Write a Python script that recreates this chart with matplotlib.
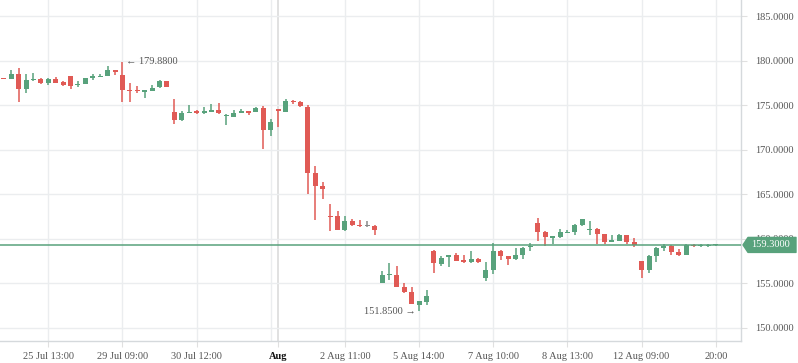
import matplotlib
matplotlib.use("Agg")
import matplotlib.pyplot as plt
from matplotlib.patches import Polygon
from matplotlib.transforms import IdentityTransform
import numpy as np

opens = [177.98, 177.92, 178.51, 176.80, 177.85, 177.95, 177.54, 177.95, 177.58, 178.29,
         177.25, 177.36, 178.10, 178.21, 178.29, 178.96, 178.44, 176.62, 176.60, 176.53,
         176.64, 177.00, 177.73, 174.23, 173.34, 174.17, 174.24, 174.13, 174.24, 174.47,
         173.76, 173.72, 174.16, 174.36, 174.24, 174.69, 172.22, 174.58, 174.24, 175.45,
         175.37, 174.81, 167.39, 165.93, 162.55, 162.55, 161.02, 161.99, 161.54, 161.43,
         161.43, 155.06, 155.89, 155.96, 154.57, 154.05, 152.60, 152.93, 158.62, 157.16,
         157.91, 158.17, 157.61, 157.38, 157.72, 155.63, 156.52, 158.62, 158.06, 157.72,
         158.17, 159.07, 161.77, 160.76, 160.13, 160.20, 160.68, 160.76, 161.54, 160.94,
         161.10, 160.54, 159.68, 159.74, 160.42, 159.63, 157.50, 156.53, 158.06, 158.96,
         159.18, 158.51, 158.17, 159.25, 159.22, 159.22, 159.25]
highs = [178.05, 178.96, 179.22, 178.51, 178.66, 178.03, 178.07, 178.18, 177.73, 178.29,
         177.73, 178.07, 178.51, 178.51, 179.45, 178.96, 179.88, 177.47, 177.17, 176.68,
         177.31, 177.84, 177.73, 175.69, 174.36, 175.03, 174.47, 174.81, 175.14, 175.26,
         174.02, 174.47, 174.58, 174.36, 174.84, 174.95, 173.46, 174.58, 175.70, 175.59,
         175.45, 175.02, 168.17, 166.38, 163.90, 163.15, 162.55, 162.22, 162.10, 161.99,
         161.54, 156.37, 157.27, 156.93, 155.02, 154.54, 153.00, 154.28, 158.73, 158.06,
         158.17, 158.36, 158.17, 158.62, 157.83, 157.38, 159.49, 158.73, 158.06, 158.96,
         159.07, 159.51, 162.33, 160.87, 160.20, 161.10, 160.98, 161.66, 162.22, 161.99,
         161.21, 160.54, 160.42, 160.54, 160.42, 160.08, 157.50, 158.17, 159.07, 159.40,
         159.29, 158.85, 159.40, 159.40, 159.40, 159.40, 159.40]
lows = [177.90, 177.90, 175.37, 176.35, 177.76, 177.42, 177.24, 177.50, 177.17, 176.86,
        177.09, 177.36, 177.87, 178.21, 178.29, 178.40, 175.40, 175.40, 176.35, 175.85,
        176.57, 176.94, 177.00, 172.93, 173.23, 174.16, 174.02, 174.05, 174.24, 174.02,
        172.78, 173.65, 174.16, 173.91, 174.24, 170.08, 171.58, 172.59, 174.24, 175.14,
        174.77, 165.06, 162.14, 164.50, 160.90, 161.02, 160.90, 161.43, 161.28, 161.35,
        160.42, 155.06, 155.40, 154.61, 153.93, 152.63, 151.85, 152.60, 156.15, 156.93,
        156.82, 157.46, 157.27, 157.27, 157.27, 155.29, 156.07, 157.61, 157.05, 157.61,
        157.72, 158.62, 159.74, 159.18, 159.40, 160.08, 160.64, 160.42, 161.43, 160.42,
        159.40, 159.40, 159.64, 159.74, 159.40, 159.07, 155.60, 156.18, 157.38, 158.62,
        158.17, 158.06, 158.17, 159.10, 159.10, 159.10, 159.18]
closes = [177.92, 178.51, 176.83, 177.84, 177.92, 177.50, 177.95, 177.54, 177.31, 177.20,
          177.31, 178.07, 178.32, 178.32, 178.96, 178.70, 176.72, 176.55, 176.55, 176.68,
          176.94, 177.73, 177.00, 173.33, 174.16, 174.24, 174.18, 174.39, 174.47, 174.10,
          173.82, 174.16, 174.36, 174.13, 174.69, 172.22, 173.12, 174.39, 175.48, 175.37,
          174.89, 167.42, 165.96, 165.62, 162.48, 161.02, 161.99, 161.54, 161.47, 161.43,
          161.02, 155.92, 155.96, 154.61, 154.05, 152.63, 153.00, 153.60, 157.27, 157.83,
          158.17, 157.50, 157.38, 157.72, 157.38, 156.52, 158.62, 158.06, 157.72, 158.17,
          158.96, 159.18, 160.76, 160.20, 160.20, 160.76, 160.76, 161.54, 162.22, 161.02,
          160.54, 159.64, 159.74, 160.42, 159.63, 159.30, 156.51, 158.06, 158.96, 159.18,
          158.51, 158.17, 159.29, 159.14, 159.33, 159.33, 159.30]

tick_idx = [6, 16, 26, 37, 46, 56, 66, 76, 86, 96]
tick_labels = ["25 Jul 13:00", "29 Jul 09:00", "30 Jul 12:00", "Aug", "2 Aug 11:00",
               "5 Aug 14:00", "7 Aug 10:00", "8 Aug 13:00", "12 Aug 09:00", "20:00"]
grid_idx = [6, 16, 26, 36, 46, 56, 66, 76, 86, 96]
y_ticks = [150, 155, 160, 165, 170, 175, 180, 185]

GREEN = "#58a27c"
RED = "#e05a55"
GREY = "#8a8a8a"
SERIF = ["Liberation Serif", "DejaVu Serif"]

W, H = 798, 363
fig = plt.figure(figsize=(W / 100, H / 100), dpi=100)
ax = fig.add_axes([0, 1 - 341 / H, 741 / W, 341 / H])

o = np.array(opens); h = np.array(highs); l = np.array(lows); c = np.array(closes)
x = np.arange(len(o))
cols = np.where(c > o, GREEN, np.where(c < o, RED, GREY))

ax.vlines(x, l, h, colors=cols, linewidth=1.1, zorder=3)
body_bottom = np.minimum(o, c)
body_h = np.maximum(np.abs(c - o), 0.12)
ax.bar(x, body_h, bottom=body_bottom, width=0.68, color=cols, linewidth=0, zorder=4)

ax.set_xlim(-0.51, 99.4)
ax.set_ylim(148.5, 186.83)

# grid
for gi in grid_idx:
    ax.axvline(gi, color="#ebedef", linewidth=1, zorder=1)
ax.axvline(37, color="#dcdcdc", linewidth=1.2, zorder=1)
for yt in y_ticks:
    ax.axhline(yt, color="#ebedef", linewidth=1, zorder=1)

# last price line
last = closes[-1]
ax.axhline(last, color=GREEN, linewidth=1.1, zorder=5)

for s in ["top", "left"]:
    ax.spines[s].set_visible(False)
for s in ["right", "bottom"]:
    ax.spines[s].set_color("#d5d9dc")
    ax.spines[s].set_linewidth(1)

ax.yaxis.tick_right()
ax.set_yticks(y_ticks)
ax.set_yticklabels([f"{v:.4f}" for v in y_ticks], fontsize=7.5, color="#555555",
                   family=SERIF)
ax.tick_params(axis="y", length=4, color="#e0e0e0", pad=6)
ax.set_xticks(tick_idx)
ax.set_xticklabels(tick_labels, fontsize=7.5, color="#555555", family=SERIF)
ax.tick_params(axis="x", length=4, color="#e0e0e0", pad=4)
for lab in ax.get_xticklabels():
    if lab.get_text() == "Aug":
        lab.set_color("#111111")
        lab.set_fontweight("bold")

# high / low annotations
ih = int(np.argmax(h)); il = int(np.argmin(l))
ax.annotate(f"\u2190 {h[ih]:.4f}", xy=(ih, h[ih]), xytext=(2.5, 0), textcoords="offset points",
            ha="left", va="center", fontsize=7.5, color="#555555", family=SERIF)
ax.annotate(f"{l[il]:.4f} \u2192", xy=(il, l[il]), xytext=(-2.5, 0), textcoords="offset points",
            ha="right", va="center", fontsize=7.5, color="#555555", family=SERIF)

# last price tag
fig.canvas.draw()
yd = ax.transData.transform((0, last))[1]
pts = [(743, yd), (748, yd + 7.5), (796, yd + 7.5), (796, yd - 7.5), (748, yd - 7.5)]
tag = Polygon(pts, closed=True, transform=IdentityTransform(), facecolor=GREEN,
              edgecolor=GREEN, linewidth=1, zorder=10, joinstyle="round")
fig.add_artist(tag)
fig.text(771 / W, yd / H, f"{last:.4f}", color="white", fontsize=7.5, family=SERIF,
         ha="center", va="center", zorder=11)

fig.savefig("out.png", dpi=100)
